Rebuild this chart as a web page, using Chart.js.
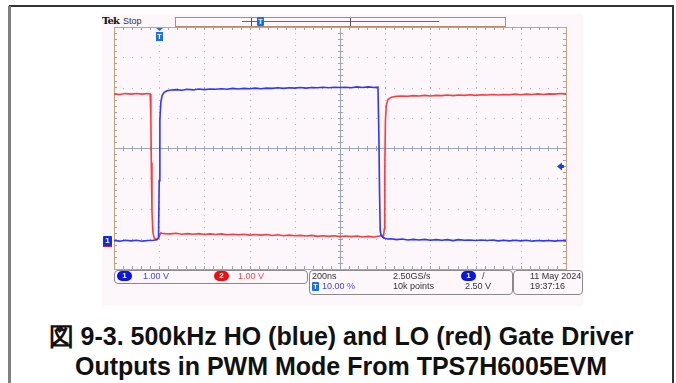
<!DOCTYPE html>
<html>
<head>
<meta charset="utf-8">
<script src="https://cdn.jsdelivr.net/npm/chart.js@4"></script>
<style>
  body { margin: 0; width: 676px; height: 383px; position: relative; overflow: hidden; background: #fff;
         font-family: "Liberation Sans", Arial, sans-serif; }
  .abs { position: absolute; }
  #frameTop { left: 9px; top: 5px; width: 665px; height: 2px; background: #333; }
  #frameLeft { left: 8px; top: 6px; width: 3px; height: 377px; background: #808080; }
  #frameRight { left: 672px; top: 5px; width: 2px; height: 378px; background: #333; }
  #scope { left: 102px; top: 14px; width: 481px; height: 292px; background: #fdf6fb; }
  #tek { left: 102px; top: 15px; font: bold 10px "DejaVu Serif", serif; letter-spacing: -0.8px; color: #111; }
  #stop { left: 123px; top: 16px; font-size: 9px; color: #333; }
  #recbar { left: 175px; top: 17px; width: 329px; height: 8px; border: 1px solid #b98a64; }
  #recline { left: 242px; top: 21px; width: 197px; height: 1px; background: #4b5cf0; }
  .brk { width: 1px; height: 8px; top: 18px; background: #555; }
  .box { border: 1px solid #8a8a8a; border-radius: 4px; }
  .txt { font-size: 9px; line-height: 11px; color: #333; white-space: nowrap; }
  .blue { color: #3a48f5; }
  .red { color: #f04848; }
  .badge { width: 15px; height: 10px; border-radius: 5px; color: #fff; font: bold 8px/10px "Liberation Sans", Arial, sans-serif;
           text-align: center; }
  #title { left: 0; top: 321px; width: 682px; text-align: center; font: bold 25px/30px "Liberation Sans", Arial, sans-serif; color: #111; }
  #wrap { left: 112px; top: 25px; width: 456px; height: 246px; }
</style>
</head>
<body>
<div class="abs" id="frameTop"></div>
<div class="abs" id="frameLeft"></div>
<div class="abs" id="frameRight"></div>
<div class="abs" id="scope"></div>

<div class="abs" id="tek">Tek</div>
<div class="abs txt" id="stop">Stop</div>
<div class="abs" id="recbar"></div>
<div class="abs" id="recline"></div>
<div class="abs brk" style="left:251px"></div>
<div class="abs brk" style="left:350px"></div>
<div class="abs badge" style="left:257px;top:17px;width:7px;height:9px;border-radius:1px;background:#1a6ee8;font-size:7px;line-height:9px">T</div>

<div class="abs" id="wrap"><canvas id="chart"></canvas></div>

<!-- channel 1 ground marker -->
<div class="abs" style="left:103px;top:245px;width:9px;height:2px;background:#e02020"></div>
<div class="abs badge" style="left:103px;top:236px;width:9px;height:10px;border-radius:1px;background:#1030e0">1</div>

<!-- status boxes -->
<div class="abs box" style="left:114px;top:270px;width:192px;height:12px"></div>
<div class="abs box" style="left:309px;top:270px;width:202px;height:23px"></div>
<div class="abs box" style="left:513px;top:270px;width:68px;height:23px"></div>

<div class="abs badge" style="left:117px;top:271px;background:#0a14e6">1</div>
<div class="abs txt blue" style="left:143px;top:271px">1.00 V</div>
<div class="abs badge" style="left:214px;top:271px;background:#ee1010">2</div>
<div class="abs txt red" style="left:238px;top:271px">1.00 V</div>

<div class="abs txt" style="left:312px;top:271px">200ns</div>
<div class="abs txt" style="left:393px;top:271px">2.50GS/s</div>
<div class="abs badge" style="left:461px;top:271px;background:#0a14e6">1</div>
<div class="abs txt" style="left:482px;top:271px">/</div>
<div class="abs badge" style="left:312px;top:282px;width:7px;height:9px;border-radius:1px;background:#1a6ee8;font-size:7px;line-height:9px">T</div>
<div class="abs txt blue" style="left:322px;top:281px">10.00 %</div>
<div class="abs txt" style="left:393px;top:281px">10k points</div>
<div class="abs txt" style="left:465px;top:281px">2.50 V</div>

<div class="abs txt" style="left:530px;top:271px">11 May 2024</div>
<div class="abs txt" style="left:530px;top:281px">19:37:16</div>

<div class="abs" id="title">図 9-3. 500kHz HO (blue) and LO (red) Gate Driver<br>Outputs in PWM Mode From TPS7H6005EVM</div>

<script>
// time base 200 ns/div, trigger at 10 % of record
const xTicks = [-200, 0, 200, 400, 600, 800, 1000, 1200, 1400, 1600, 1800];
// vertical divisions, 1 V/div
const yTicks = [-4, -3, -2, -1, 0, 1, 2, 3, 4];
const groundDiv = 3.08;   // both channels' ground sits 3.08 div below centre
const trigLevel = 2.5;

// HO (channel 1, blue)
const hoT = [-200, -175, -150, -125, -100, -75, -50, -25, -10, -6, -3, 0, 3, 7, 13, 22, 35, 53,
  75, 100, 125, 150, 175, 200, 225, 250, 275, 300, 325, 350, 375, 400, 425, 450, 475, 500, 525, 550,
  575, 600, 625, 650, 675, 700, 725, 750, 775, 800, 825, 850, 875, 900, 925, 950,
  968, 972, 975, 978, 982, 987, 995, 1010,
  1025, 1050, 1075, 1100, 1125, 1150, 1175, 1200, 1225, 1250, 1275, 1300, 1325, 1350, 1375, 1400,
  1425, 1450, 1475, 1500, 1525, 1550, 1575, 1600, 1625, 1650, 1675, 1700, 1725, 1750, 1775, 1800];
const hoV = [0.02, 0.00, 0.03, 0.01, 0.03, 0.00, 0.02, 0.03, 0.05, 0.09, 0.11, 2.0, 4.0, 4.58, 4.82, 4.92, 4.97, 5.00,
  5.01, 4.99, 5.02, 5.00, 5.03, 5.01, 5.03, 5.02, 5.04, 5.02, 5.05, 5.03, 5.05, 5.04, 5.06, 5.04, 5.06, 5.05, 5.07, 5.05,
  5.07, 5.06, 5.08, 5.06, 5.08, 5.07, 5.09, 5.07, 5.09, 5.08, 5.09, 5.07, 5.10, 5.08, 5.10, 5.08,
  5.09, 3.5, 1.6, 0.35, 0.18, 0.15, 0.10, 0.07,
  0.08, 0.05, 0.07, 0.04, 0.06, 0.04, 0.06, 0.03, 0.05, 0.03, 0.05, 0.02, 0.05, 0.03, 0.04, 0.02,
  0.04, 0.02, 0.04, 0.01, 0.03, 0.01, 0.03, 0.01, 0.03, 0.00, 0.02, 0.01, 0.02, 0.00, 0.02, 0.01];

// LO (channel 2, red)
const loT = [-200, -175, -150, -125, -100, -75, -50, -40, -37, -35, -32, -28, -22, -15, -8, -3, 2, 7, 13, 25,
  50, 75, 100, 125, 150, 175, 200, 225, 250, 275, 300, 325, 350, 375, 400, 425, 450, 475, 500, 525,
  550, 575, 600, 625, 650, 675, 700, 725, 750, 775, 800, 825, 850, 875, 900, 925, 950, 975, 985, 992,
  996, 998, 1001, 1005, 1012, 1028, 1050, 1075,
  1100, 1125, 1150, 1175, 1200, 1225, 1250, 1275, 1300, 1325, 1350, 1375, 1400, 1425, 1450, 1475,
  1500, 1525, 1550, 1575, 1600, 1625, 1650, 1675, 1700, 1725, 1750, 1775, 1800];
const loV = [4.87, 4.85, 4.88, 4.86, 4.88, 4.86, 4.88, 4.87, 4.2, 2.6, 1.0, 0.3, 0.1, 0.06, 0.07, 0.10, 0.20, 0.27, 0.26, 0.25,
  0.24, 0.26, 0.23, 0.25, 0.23, 0.25, 0.22, 0.24, 0.22, 0.24, 0.21, 0.23, 0.21, 0.23, 0.20, 0.22, 0.20, 0.22, 0.19, 0.21,
  0.18, 0.20, 0.18, 0.19, 0.17, 0.19, 0.16, 0.18, 0.16, 0.18, 0.15, 0.17, 0.15, 0.17, 0.14, 0.16, 0.14, 0.17, 0.20, 0.13,
  0.4, 2.2, 4.0, 4.5, 4.68, 4.76, 4.79, 4.80,
  4.79, 4.81, 4.80, 4.82, 4.80, 4.82, 4.81, 4.83, 4.81, 4.83, 4.82, 4.84, 4.82, 4.84, 4.83, 4.85,
  4.83, 4.85, 4.84, 4.86, 4.84, 4.86, 4.85, 4.87, 4.85, 4.87, 4.86, 4.88, 4.87];

var toPoints = (ts, vs) => ts.map((t, i) => ({x: t, y: vs[i] - groundDiv}));

// graticule, markers
var scopeDeco = {
  id: "scopeDeco",
  beforeDatasetsDraw(chart) {
    var ctx = chart.ctx, a = chart.chartArea, x = chart.scales.x, y = chart.scales.y;
    var xMid = x.getPixelForValue(800), yMid = y.getPixelForValue(0);
    ctx.save();
    // dotted grid lines, one dot every 1/5 division
    ctx.fillStyle = "#b5b5b5";
    xTicks.slice(1, -1).forEach(t => {
      if (t === 800) return;
      var px = Math.round(x.getPixelForValue(t));
      for (var v = -4; v <= 4.001; v += 0.2) ctx.fillRect(px, Math.round(y.getPixelForValue(v)), 1, 1);
    });
    yTicks.slice(1, -1).forEach(d => {
      if (d === 0) return;
      var py = Math.round(y.getPixelForValue(d));
      for (var t = -200; t <= 1800.01; t += 40) ctx.fillRect(Math.round(x.getPixelForValue(t)), py, 1, 1);
    });
    // centre cross with minor ticks
    ctx.fillStyle = "#9aa2bc";
    ctx.fillRect(Math.round(xMid), a.top, 1, a.bottom - a.top);
    ctx.fillRect(a.left, Math.round(yMid), a.right - a.left, 1);
    for (var t = -200; t <= 1800.01; t += 40) {
      var px = Math.round(x.getPixelForValue(t));
      ctx.fillRect(px, Math.round(yMid) - 2, 1, 5);
      ctx.fillRect(px, a.top, 1, 3);
      ctx.fillRect(px, a.bottom - 3, 1, 3);
    }
    for (var v = -4; v <= 4.001; v += 0.2) {
      var py = Math.round(y.getPixelForValue(v));
      ctx.fillRect(Math.round(xMid) - 2, py, 5, 1);
      ctx.fillRect(a.left, py, 3, 1);
      ctx.fillRect(a.right - 3, py, 3, 1);
    }
    // frame
    ctx.strokeStyle = "#caa17e";
    ctx.lineWidth = 1;
    ctx.strokeRect(Math.round(a.left) + 0.5, Math.round(a.top) + 0.5, Math.round(a.right - a.left), Math.round(a.bottom - a.top));
    ctx.restore();
  },
  afterDatasetsDraw(chart) {
    var ctx = chart.ctx, a = chart.chartArea, x = chart.scales.x, y = chart.scales.y;
    ctx.save();
    // trigger position marker
    var tx = Math.round(x.getPixelForValue(0));
    ctx.fillStyle = "#1a6ee8";
    ctx.beginPath();
    ctx.moveTo(tx - 3, a.top + 1); ctx.lineTo(tx + 4, a.top + 1); ctx.lineTo(tx + 0.5, a.top + 4);
    ctx.fill();
    ctx.fillRect(tx - 3, a.top + 5, 7, 9);
    ctx.fillStyle = "#fff";
    ctx.font = "bold 8px 'Liberation Sans', Arial";
    ctx.textAlign = "center"; ctx.textBaseline = "middle";
    ctx.fillText("T", tx + 0.5, a.top + 10);
    // trigger level arrow
    var ly = Math.round(y.getPixelForValue(trigLevel - groundDiv));
    ctx.fillStyle = "#1840e8";
    ctx.beginPath();
    ctx.moveTo(a.right - 9, ly + 0.5); ctx.lineTo(a.right - 4, ly - 3.5); ctx.lineTo(a.right - 4, ly + 4.5);
    ctx.fill();
    ctx.fillRect(a.right - 4, ly - 1, 2, 3);
    ctx.restore();
  }
};

var chart = new Chart(document.getElementById("chart").getContext("2d"), {
  type: "line",
  data: {
    datasets: [
      { label: "HO", data: toPoints(hoT, hoV), borderColor: "#2f36ff", borderWidth: 1.6 },
      { label: "LO", data: toPoints(loT, loV), borderColor: "#ff3a3a", borderWidth: 1.6 }
    ]
  },
  options: {
    responsive: true,
    maintainAspectRatio: false,
    animation: false,
    layout: { padding: 2 },
    elements: { point: { radius: 0 }, line: { tension: 0 } },
    plugins: { legend: { display: false }, tooltip: { enabled: false } },
    scales: {
      x: { type: "linear", min: -200, max: 1800, ticks: { display: false, stepSize: 200 },
           grid: { display: false, drawTicks: false }, border: { display: false } },
      y: { min: -4, max: 4, ticks: { display: false, stepSize: 1 },
           grid: { display: false, drawTicks: false }, border: { display: false } }
    }
  },
  plugins: [scopeDeco]
});
</script>
</body>
</html>
